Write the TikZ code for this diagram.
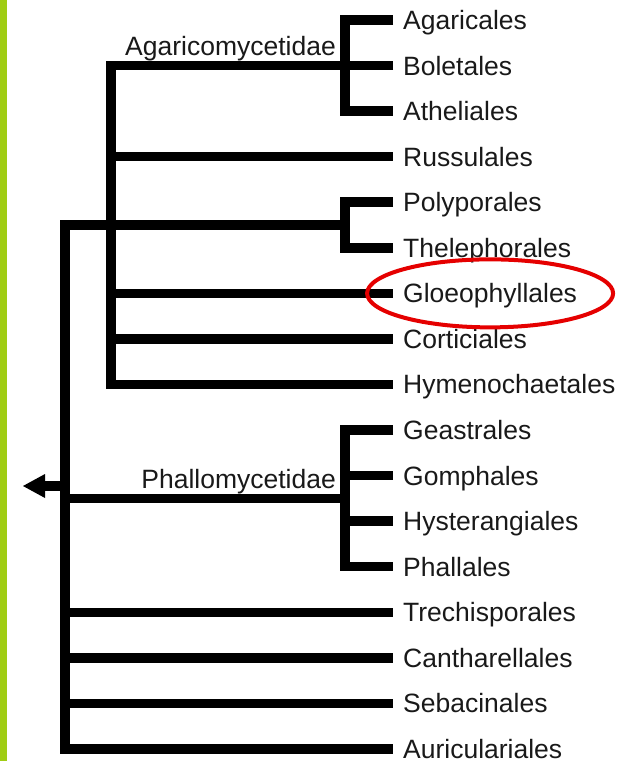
\documentclass[tikz,border=0pt]{standalone}
\usepackage{fontspec}
\setmainfont{Liberation Sans}
\usepackage{xcolor}
\usepackage{tikz}
\usetikzlibrary{positioning,arrows.meta,calc}

\definecolor{barGreen}{RGB}{160,205,20}

\begin{document}
\begin{tikzpicture}[
    x=1pt, y=-1pt,
    branch/.style={line width=9.5pt, line join=miter},
    leaf/.style={
      anchor=west, inner xsep=10pt, inner ysep=0pt,
      text height=19pt, text depth=0pt, text=black!90,
      font=\fontsize{26.5}{30}\selectfont
    },
    clade/.style={
      anchor=base east, inner sep=0pt, text=black!90,
      font=\fontsize{26.5}{30}\selectfont
    }
]

  \useasboundingbox (0,0) rectangle (637,761);
  \fill[barGreen] (0,0) rectangle (7,761);

  % leaf labels
  \foreach \name [count=\j] in {Agaricales,Boletales,Atheliales,Russulales,
      Polyporales,Thelephorales,Gloeophyllales,Corticiales,Hymenochaetales,
      Geastrales,Gomphales,Hysterangiales,Phallales,Trechisporales,
      Cantharellales,Sebacinales,Auriculariales}
  \node[leaf] (l\j) at (393,{20+(\j-1)*45.56}) {\name};

  % x of the long vertical branches
  \coordinate (rt) at (65,0);
  \coordinate (ag) at (111,0);

  % Agaricomycetidae
  \draw[branch] (l1.west) -- ++(-48,0) |- (l3.west);
  \draw[branch] (l2.west) -| (ag |- l9.west) -- (l9.west);
  \foreach \i in {4,7,8}
  \draw[branch] (ag |- l\i.west) -- (l\i.west);
  \draw[branch] (l5.west) -- ++(-48,0) coordinate (pp) |- (l6.west);

  % root branch
  \coordinate (pj) at ($(pp)!.5!(pp |- l6.west)$);
  \draw[branch] (pj) -| (rt |- l17.west) -- (l17.west);
  \foreach \i in {14,15,16}
  \draw[branch] (rt |- l\i.west) -- (l\i.west);

  % Phallomycetidae
  \draw[branch] (l10.west) -- ++(-48,0) coordinate (ph) |- (l13.west);
  \foreach \i in {11,12}
  \draw[branch] (ph |- l\i.west) -- (l\i.west);
  \coordinate (phj) at ($(ph |- l11.west)!.5!(ph |- l12.west)$);
  \draw[branch] (rt |- phj) -- (phj);

  % clade labels
  \node[clade] (agar) at ($(ag |- l2.west)+(225,-10)$) {Agaricomycetidae};
  \node[clade] (phall) at ($(phj)+(-9,-10)$) {Phallomycetidae};

  % root arrow
  \coordinate (out) at (20,486);
  \draw[branch, -{Triangle[length=22pt,width=24pt,line width=0pt,sep=3pt]}]
    (rt |- out) -- (out);

  % highlight
  \draw[red!90!black, line width=4pt] (l7.center) ellipse [x radius=123pt, y radius=34pt];

\end{tikzpicture}
\end{document}
